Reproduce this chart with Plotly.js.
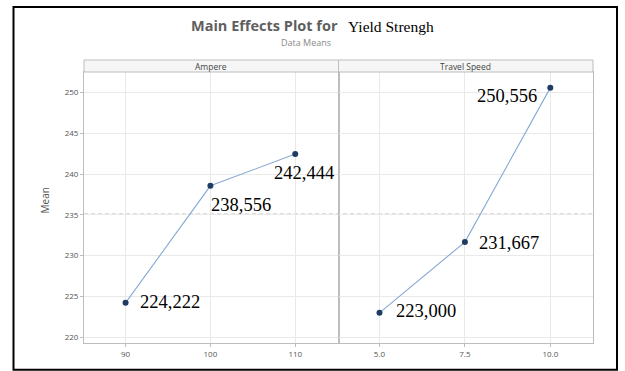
<!DOCTYPE html>
<html>
<head>
<meta charset="utf-8">
<script src="https://cdn.plot.ly/plotly-3.0.1.min.js"></script>
<style>
  html, body { margin: 0; padding: 0; background: #ffffff; }
  #chart { width: 625px; height: 371px; }
</style>
</head>
<body>
<div id="chart"></div>
<script>
// Factor levels and mean yield strength for each level
const ampereLevels = [90, 100, 110];
const ampereTickText = ['90', '100', '110'];
const ampereMeans = [224.222, 238.556, 242.444];

const speedLevels = [5.0, 7.5, 10.0];
const speedTickText = ['5.0', '7.5', '10.0'];
const speedMeans = [223.000, 231.667, 250.556];

const panelTitles = ['Ampere', 'Travel Speed'];
const yTicks = [220, 225, 230, 235, 240, 245, 250];

// Grand mean of all observations (reference line)
const grandMean = ampereMeans.reduce((a, b) => a + b, 0) / ampereMeans.length;

// value label: three decimals with a decimal comma
const fmt = v => v.toFixed(3).replace('.', ',');

// Plot frame in pixels, used to place paper-referenced decorations
const W = 625, H = 371;
const L = 84, R = 593, T = 71.5, B = 342.7;
const px = x => (x - L) / (R - L);
const py = y => (B - y) / (B - T);

const lineColor = '#86a9d3';
const markerColor = '#1f3c63';
const frameColor = '#bdbdbd';
const gridColor = '#e9e9e9';
const tickFont = { family: 'Open Sans, DejaVu Sans, sans-serif', size: 8, color: '#555555' };

const traces = [
  {
    x: ampereLevels, y: ampereMeans, xaxis: 'x', yaxis: 'y',
    type: 'scatter', mode: 'lines+markers',
    line: { color: lineColor, width: 1.1 },
    marker: { color: markerColor, size: 6 },
    hoverinfo: 'x+y'
  },
  {
    x: speedLevels, y: speedMeans, xaxis: 'x2', yaxis: 'y',
    type: 'scatter', mode: 'lines+markers',
    line: { color: lineColor, width: 1.1 },
    marker: { color: markerColor, size: 6 },
    hoverinfo: 'x+y'
  }
];

const xCommon = {
  showline: true, linecolor: frameColor, linewidth: 1, mirror: true,
  showgrid: true, gridcolor: gridColor, gridwidth: 1,
  zeroline: false, ticks: 'outside', ticklen: 3, tickcolor: frameColor,
  tickfont: tickFont, fixedrange: true
};

// Value labels beside each mean point: [xref, x, y, xanchor, xshift, yshift]
const labelPlacement = [
  ['x', ampereLevels[0], ampereMeans[0], 'left', 12, 1],
  ['x', ampereLevels[1], ampereMeans[1], 'left', -1, -19],
  ['x', ampereLevels[2], ampereMeans[2], 'center', 9, -19],
  ['x2', speedLevels[0], speedMeans[0], 'left', 15, 2],
  ['x2', speedLevels[1], speedMeans[1], 'left', 12, -1],
  ['x2', speedLevels[2], speedMeans[2], 'right', -11, -8]
];

const valueLabels = labelPlacement.map(([xr, x, y, xa, xs, ys]) => ({
  xref: xr, yref: 'y', x: x, y: y, text: fmt(y), showarrow: false,
  xanchor: xa, yanchor: 'middle', xshift: xs, yshift: ys,
  font: { family: 'Liberation Serif, Times New Roman, serif', size: 18.5, color: '#000000' }
}));

const stripTop = py(59.5);
const stripAnnotations = panelTitles.map((t, i) => ({
  xref: 'paper', yref: 'paper', x: i === 0 ? 0.25 : 0.75, y: (1 + stripTop) / 2,
  text: t, showarrow: false, xanchor: 'center', yanchor: 'middle',
  font: { family: 'Open Sans, DejaVu Sans, sans-serif', size: 8.5, color: '#444444' }
}));

const layout = {
  width: W, height: H,
  margin: { l: L, r: W - R, t: T, b: H - B, pad: 0 },
  paper_bgcolor: '#ffffff', plot_bgcolor: '#ffffff',
  showlegend: false,
  xaxis: Object.assign({}, xCommon, {
    domain: [0, 0.5], range: [85.1, 115.1],
    tickvals: ampereLevels, ticktext: ampereTickText, anchor: 'y'
  }),
  xaxis2: Object.assign({}, xCommon, {
    domain: [0.5, 1], range: [3.8, 11.25],
    tickvals: speedLevels, ticktext: speedTickText, anchor: 'y'
  }),
  yaxis: {
    range: [219.3, 252.5], tickvals: yTicks,
    showline: true, linecolor: frameColor, linewidth: 1, mirror: 'all',
    showgrid: true, gridcolor: gridColor, gridwidth: 1,
    zeroline: false, ticks: 'outside', ticklen: 3, tickcolor: frameColor,
    tickfont: tickFont, fixedrange: true
  },
  shapes: [
    // grand-mean reference line across both panels
    { type: 'line', xref: 'paper', yref: 'y', x0: 0, x1: 1, y0: grandMean, y1: grandMean,
      line: { color: '#7d7d7d', width: 1, dash: '4px,3px' }, layer: 'below' },
    // panel strips
    { type: 'rect', xref: 'paper', yref: 'paper', x0: 0, x1: 0.5, y0: 1, y1: stripTop,
      fillcolor: '#f6f6f6', line: { color: frameColor, width: 1 } },
    { type: 'rect', xref: 'paper', yref: 'paper', x0: 0.5, x1: 1, y0: 1, y1: stripTop,
      fillcolor: '#f6f6f6', line: { color: frameColor, width: 1 } },
    // outer black frame
    { type: 'rect', xref: 'paper', yref: 'paper', x0: px(13.5), x1: px(617), y0: py(369.5), y1: py(6.5),
      line: { color: '#000000', width: 2 }, fillcolor: 'rgba(0,0,0,0)' }
  ],
  annotations: [
    { xref: 'paper', yref: 'paper', x: px(340), y: py(25), xanchor: 'right', yanchor: 'middle',
      text: '<b>Main Effects Plot for</b>', showarrow: false,
      font: { family: 'Open Sans, DejaVu Sans, sans-serif', size: 14.5, color: '#5f5f5f' } },
    { xref: 'paper', yref: 'paper', x: px(346), y: py(25.5), xanchor: 'left', yanchor: 'middle',
      text: 'Yield Strengh', showarrow: false,
      font: { family: 'Liberation Serif, Times New Roman, serif', size: 15.5, color: '#000000' } },
    { xref: 'paper', yref: 'paper', x: px(306), y: py(42), xanchor: 'center', yanchor: 'middle',
      text: 'Data Means', showarrow: false,
      font: { family: 'Open Sans, DejaVu Sans, sans-serif', size: 9, color: '#8a8a8a' } },
    { xref: 'paper', yref: 'paper', x: px(45), y: py(200), xanchor: 'center', yanchor: 'middle',
      text: 'Mean', textangle: -90, showarrow: false,
      font: { family: 'Open Sans, DejaVu Sans, sans-serif', size: 10, color: '#555555' } }
  ].concat(stripAnnotations, valueLabels)
};

Plotly.newPlot('chart', traces, layout, { displayModeBar: false, staticPlot: true });
</script>
</body>
</html>
